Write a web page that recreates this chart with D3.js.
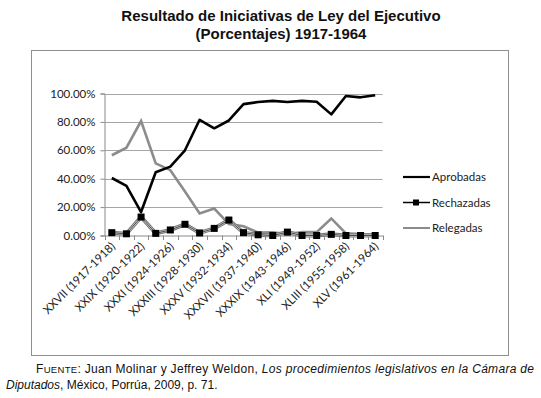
<!DOCTYPE html>
<html>
<head>
<meta charset="utf-8">
<script src="https://cdn.jsdelivr.net/npm/d3@7"></script>
<style>
  body { margin: 0; background: #fff; }
  svg { display: block; }
</style>
</head>
<body>
<div id="chart"></div>
<script>
var legislaturas = ["XXVII (1917-1918)", "XXVIII (1918-1920)", "XXIX (1920-1922)", "XXX (1922-1924)",
  "XXXI (1924-1926)", "XXXII (1926-1928)", "XXXIII (1928-1930)", "XXXIV (1930-1932)",
  "XXXV (1932-1934)", "XXXVI (1934-1937)", "XXXVII (1937-1940)", "XXXVIII (1940-1943)",
  "XXXIX (1943-1946)", "XL (1946-1949)", "XLI (1949-1952)", "XLII (1952-1955)",
  "XLIII (1955-1958)", "XLIV (1958-1961)", "XLV (1961-1964)"];
var aprobadas = [40.5, 35, 16.5, 44.5, 48.5, 60, 81.5, 75.5, 81, 92.5, 94, 94.8, 94, 94.8, 94.2, 85.3, 98.2, 97.3, 98.8];
var rechazadas = [2, 1.2, 13, 1.5, 3.9, 7.9, 1.8, 5, 10.9, 2, 0.5, 0, 2.4, 0, 0, 0.8, 0, 0, 0];
var relegadas = [56.5, 61.8, 80.6, 50.8, 46, 31, 15.5, 19, 8, 6.5, 2, 2.3, 0.8, 2.4, 2.4, 12, 1.5, 1, 0.8];
var yTicks = [0, 20, 40, 60, 80, 100];

var width = 541, height = 398;
var svg = d3.select("#chart").append("svg")
  .attr("width", width)
  .attr("height", height);

// titulo
var title = svg.append("text")
  .attr("text-anchor", "middle")
  .attr("font-family", "Liberation Sans, Arial, sans-serif")
  .attr("font-weight", "bold")
  .attr("font-size", 15)
  .attr("fill", "#111");
title.append("tspan").attr("x", 281).attr("y", 21).text("Resultado de Iniciativas de Ley del Ejecutivo");
title.append("tspan").attr("x", 281).attr("y", 39).text("(Porcentajes) 1917-1964");

// marco
svg.append("rect")
  .attr("x", 31.5).attr("y", 50.5)
  .attr("width", 477).attr("height", 305)
  .attr("fill", "none")
  .attr("stroke", "#8f8f8f");

var x = d3.scaleBand()
  .domain(legislaturas)
  .range([104.5, 382.5]);
var y = d3.scaleLinear()
  .domain([0, 100])
  .range([235.5, 93.5]);

var g = svg.append("g");

// lineas de la cuadricula
g.selectAll(".grid")
  .data(yTicks.filter(d => d > 0))
  .enter().append("line")
  .attr("x1", 104.5).attr("x2", 382.5)
  .attr("y1", d => Math.round(y(d)) + 0.5)
  .attr("y2", d => Math.round(y(d)) + 0.5)
  .attr("stroke", "#a6a6a6");

var yAxis = g.append("g")
  .attr("transform", "translate(104.5,0)")
  .call(d3.axisLeft(y).tickValues(yTicks).tickSize(4).tickFormat(d => d.toFixed(2) + "%"));
yAxis.select(".domain").attr("stroke", "#8a8a8a");
yAxis.selectAll(".tick line").attr("stroke", "#8a8a8a");
yAxis.selectAll("text")
  .attr("font-family", "Lato, Open Sans, sans-serif")
  .attr("font-size", 11.5)
  .attr("fill", "#222")
  .attr("x", -9);

var xAxis = g.append("g")
  .attr("transform", "translate(0,235.5)")
  .call(d3.axisBottom(x).tickSize(0).tickFormat(""));
xAxis.select(".domain").attr("stroke", "#8a8a8a");
g.selectAll(".xtick")
  .data(d3.range(legislaturas.length + 1))
  .enter().append("line")
  .attr("x1", i => Math.round(x.range()[0] + i * x.step()) + 0.5)
  .attr("x2", i => Math.round(x.range()[0] + i * x.step()) + 0.5)
  .attr("y1", 235.5).attr("y2", 240)
  .attr("stroke", "#8a8a8a");

// etiquetas del eje x (una de cada dos)
g.selectAll(".xlabel")
  .data(legislaturas.filter((d, i) => i % 2 === 0))
  .enter().append("text")
  .attr("transform", d => `translate(${x(d) + x.bandwidth() / 2 + 4},${247}) rotate(-45)`)
  .attr("text-anchor", "end")
  .attr("font-family", "Lato, Open Sans, sans-serif")
  .attr("font-size", 11.5)
  .attr("fill", "#222")
  .text(d => d);

var cx = d => x(d) + x.bandwidth() / 2;

function lineFor(values) {
  return d3.line()
    .x((d, i) => cx(legislaturas[i]))
    .y(d => y(d))(values);
}

// Relegadas
g.append("path")
  .attr("d", lineFor(relegadas))
  .attr("fill", "none")
  .attr("stroke", "#8c8c8c")
  .attr("stroke-width", 2.6);

// Rechazadas
g.append("path")
  .attr("d", lineFor(rechazadas))
  .attr("fill", "none")
  .attr("stroke", "#7a7a7a")
  .attr("stroke-width", 4);
g.append("path")
  .attr("d", lineFor(rechazadas))
  .attr("fill", "none")
  .attr("stroke", "#dcdcdc")
  .attr("stroke-width", 1.8);
g.append("path")
  .attr("d", lineFor(rechazadas))
  .attr("fill", "none")
  .attr("stroke", "#222")
  .attr("stroke-width", 0.8);

// Aprobadas
g.append("path")
  .attr("d", lineFor(aprobadas))
  .attr("fill", "none")
  .attr("stroke", "#000")
  .attr("stroke-width", 2.6)
  .attr("stroke-linejoin", "round");

g.selectAll(".marker")
  .data(rechazadas)
  .enter().append("rect")
  .attr("x", (d, i) => cx(legislaturas[i]) - 3.5)
  .attr("y", d => y(d) - 3.5)
  .attr("width", 7).attr("height", 7)
  .attr("fill", "#000");

// leyenda
var legend = [
  { name: "Aprobadas", color: "#000", w: 2.2, marker: false },
  { name: "Rechazadas", color: "#000", w: 1.5, marker: true },
  { name: "Relegadas", color: "#8c8c8c", w: 2, marker: false }
];
var lg = svg.selectAll(".legend")
  .data(legend)
  .enter().append("g")
  .attr("transform", (d, i) => `translate(403,${177 + i * 25.5})`);
lg.append("line")
  .attr("x1", 0).attr("x2", 27)
  .attr("stroke", d => d.color)
  .attr("stroke-width", d => d.w);
lg.filter(d => d.marker).append("rect")
  .attr("x", 10).attr("y", -3).attr("width", 6).attr("height", 6)
  .attr("fill", "#000");
lg.append("text")
  .attr("x", 29).attr("y", 4)
  .attr("font-family", "Lato, Open Sans, sans-serif")
  .attr("font-size", 11.5)
  .attr("fill", "#222")
  .text(d => d.name);

// fuente
var src = svg.append("g")
  .attr("font-family", "Liberation Sans, Arial, sans-serif")
  .attr("font-size", 12)
  .attr("fill", "#111");
var l1 = src.append("text").attr("x", 36).attr("y", 373)
  .attr("textLength", 498).attr("lengthAdjust", "spacing");
l1.append("tspan").text("F");
l1.append("tspan").attr("font-size", 9.5).text("UENTE");
l1.append("tspan").text(": Juan Molinar y Jeffrey Weldon, ");
l1.append("tspan").attr("font-style", "italic").text("Los procedimientos legislativos en la Cámara de");
var l2 = src.append("text").attr("x", 6).attr("y", 389);
l2.append("tspan").attr("font-style", "italic").text("Diputados");
l2.append("tspan").text(", México, Porrúa, 2009, p. 71.");
</script>
</body>
</html>
